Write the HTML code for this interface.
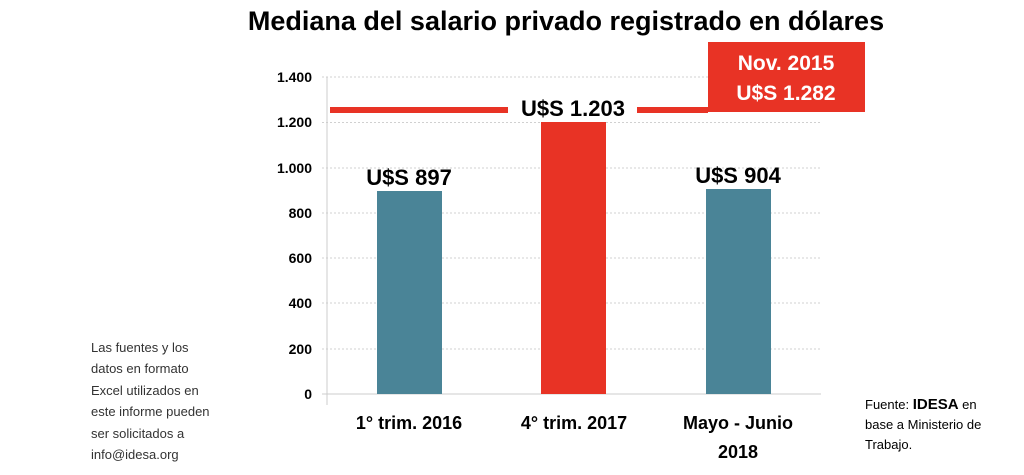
<!DOCTYPE html>
<html><head><meta charset="utf-8"><style>
body{margin:0;width:1024px;height:475px;background:#fff;overflow:hidden;font-family:"Liberation Sans",sans-serif}
</style></head><body>
<svg width="1024" height="475" xmlns="http://www.w3.org/2000/svg" style="position:absolute;left:0;top:0">
<text x="566" y="30" text-anchor="middle" font-family="Liberation Sans,sans-serif" font-weight="bold" font-size="27" fill="#000">Mediana del salario privado registrado en dólares</text>
<g stroke="#d0d0d0" stroke-dasharray="2,2" stroke-width="1">
<line x1="322" x2="821" y1="77" y2="77"/><line x1="322" x2="821" y1="122.5" y2="122.5"/>
<line x1="322" x2="821" y1="168" y2="168"/><line x1="322" x2="821" y1="213" y2="213"/>
<line x1="322" x2="821" y1="258" y2="258"/><line x1="322" x2="821" y1="303" y2="303"/>
<line x1="322" x2="821" y1="349" y2="349"/>
</g>
<line x1="327" x2="327" y1="77" y2="405" stroke="#ccc"/>
<line x1="322" x2="821" y1="394" y2="394" stroke="#ccc"/>
<g font-family="Liberation Sans,sans-serif" font-weight="bold" font-size="14" text-anchor="end" fill="#000">
<text x="312" y="82">1.400</text><text x="312" y="127">1.200</text><text x="312" y="173">1.000</text>
<text x="312" y="218">800</text><text x="312" y="263">600</text><text x="312" y="308">400</text>
<text x="312" y="354">200</text><text x="312" y="399">0</text>
</g>
<rect x="377" y="191" width="65" height="203" fill="#4a8497"/>
<rect x="541" y="122" width="65" height="272" fill="#e83325"/>
<rect x="706" y="189" width="65" height="205" fill="#4a8497"/>
<rect x="330" y="107" width="178" height="6" fill="#e83325"/>
<rect x="637" y="107" width="71" height="6" fill="#e83325"/>
<rect x="708" y="42" width="157" height="70" fill="#e83325"/>
<g font-family="Liberation Sans,sans-serif" font-weight="bold" font-size="21" text-anchor="middle">
<text x="786" y="70" fill="#fff">Nov. 2015</text><text x="786" y="100" fill="#fff">U$S 1.282</text>
<text x="573" y="116" fill="#000" font-size="22">U$S 1.203</text>
<text x="409" y="185" fill="#000" font-size="22">U$S 897</text>
<text x="738" y="183" fill="#000" font-size="22">U$S 904</text>
</g>
<g font-family="Liberation Sans,sans-serif" font-weight="bold" font-size="18" text-anchor="middle" fill="#000">
<text x="409" y="429">1° trim. 2016</text><text x="574" y="429">4° trim. 2017</text>
<text x="738" y="429">Mayo - Junio</text><text x="738" y="458">2018</text>
</g>
<g font-family="Liberation Sans,sans-serif" font-size="13" fill="#333">
<text x="91" y="352">Las fuentes y los</text><text x="91" y="373">datos en formato</text>
<text x="91" y="395">Excel utilizados en</text><text x="91" y="416">este informe pueden</text>
<text x="91" y="438">ser solicitados a</text><text x="91" y="459">info@idesa.org</text>
</g>
<g font-family="Liberation Sans,sans-serif" font-size="13" fill="#000">
<text x="865" y="409">Fuente: <tspan font-weight="bold" font-size="15">IDESA</tspan> en</text>
<text x="865" y="429">base a Ministerio de</text><text x="865" y="449">Trabajo.</text>
</g>
</svg>
</body></html>
